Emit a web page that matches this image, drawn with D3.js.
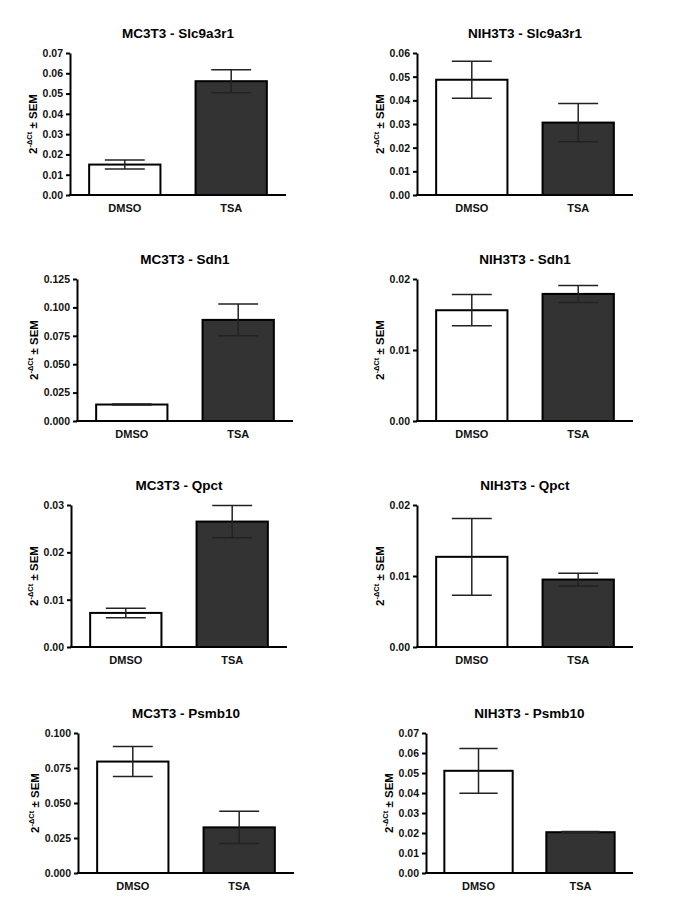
<!DOCTYPE html>
<html>
<head>
<meta charset="utf-8">
<script src="https://cdn.jsdelivr.net/npm/d3@7"></script>
<style>
  body { margin: 0; background: #fff; }
  svg { display: block; font-family: "Liberation Sans", Arial, sans-serif; }
  .axis text { font-weight: bold; fill: #111; }
</style>
</head>
<body>
<div id="chart"></div>
<script>
// chart values
const groups = ["DMSO", "TSA"];
const titles = [
  "MC3T3 - Slc9a3r1", "NIH3T3 - Slc9a3r1",
  "MC3T3 - Sdh1", "NIH3T3 - Sdh1",
  "MC3T3 - Qpct", "NIH3T3 - Qpct",
  "MC3T3 - Psmb10", "NIH3T3 - Psmb10",
];
const means = [
  [0.0150, 0.0561], [0.0487, 0.0306],
  [0.0145, 0.0890], [0.0156, 0.0179],
  [0.0072, 0.0265], [0.0127, 0.0095],
  [0.0796, 0.0326], [0.0511, 0.0204],
];
const sems = [
  [0.0022, 0.0057], [0.0078, 0.0081],
  [0.0004, 0.0140], [0.0022, 0.0012],
  [0.0010, 0.0034], [0.0054, 0.0009],
  [0.0107, 0.0115], [0.0112, 0.0003],
];
const yMax = [0.07, 0.06, 0.125, 0.02, 0.03, 0.02, 0.1, 0.07];
const tickStep = [0.01, 0.01, 0.025, 0.01, 0.01, 0.01, 0.025, 0.01];
const tickDigits = [2, 2, 3, 2, 2, 2, 3, 2];

// where each small chart sits on the page
const rows = [[53, 195], [279, 421], [505, 647], [733, 873]];
const lefts = [70, 417, 77, 417, 71, 417, 78, 426];
const plotW = 216;

const width = 685, height = 913;
const svg = d3.select("#chart").append("svg")
  .attr("width", width)
  .attr("height", height);

titles.forEach((title, i) => {
  const [top, bottom] = rows[Math.floor(i / 2)];
  const left = lefts[i];
  const right = i % 2 === 0 ? left + plotW : 633;

  const x = d3.scaleBand().domain(groups).range([left, right])
    .paddingInner(0.33).paddingOuter(0.18);
  const y = d3.scaleLinear().domain([0, yMax[i]]).range([bottom, top]);

  const g = svg.append("g").attr("class", "panel");

  // bars
  g.selectAll("rect")
    .data(groups)
    .join("rect")
    .attr("x", (d) => x(d))
    .attr("width", x.bandwidth())
    .attr("y", (d, j) => y(means[i][j]))
    .attr("height", (d, j) => bottom - y(means[i][j]))
    .attr("fill", (d, j) => (j === 0 ? "#fff" : "#333"))
    .attr("stroke", "#000")
    .attr("stroke-width", 2);

  // error bars
  const capW = x.bandwidth() * 0.56;
  const err = g.append("g").attr("class", "err")
    .attr("stroke", "#222").attr("stroke-width", 1.5);
  groups.forEach((d, j) => {
    const cx = x(d) + x.bandwidth() / 2;
    const hi = y(means[i][j] + sems[i][j]);
    const lo = y(means[i][j] - sems[i][j]);
    err.append("line").attr("x1", cx).attr("x2", cx).attr("y1", hi).attr("y2", lo);
    err.append("line").attr("x1", cx - capW / 2).attr("x2", cx + capW / 2).attr("y1", hi).attr("y2", hi);
    err.append("line").attr("x1", cx - capW / 2).attr("x2", cx + capW / 2).attr("y1", lo).attr("y2", lo);
  });

  // y axis
  const ticks = d3.range(0, yMax[i] + tickStep[i] / 2, tickStep[i]);
  const yAxis = g.append("g").attr("class", "axis")
    .attr("transform", `translate(${left},0)`)
    .call(d3.axisLeft(y).tickValues(ticks).tickFormat(d3.format(`.${tickDigits[i]}f`))
      .tickSize(4).tickSizeOuter(0).tickPadding(3));
  yAxis.selectAll("path, line").attr("stroke", "#000").attr("stroke-width", 2);
  yAxis.selectAll("text").style("font-size", "10.5px");

  // x axis
  const xAxis = g.append("g").attr("class", "axis")
    .attr("transform", `translate(0,${bottom})`)
    .call(d3.axisBottom(x).tickSize(0).tickSizeOuter(0).tickPadding(9));
  xAxis.select(".domain").attr("stroke", "#000").attr("stroke-width", 2)
    .attr("d", `M${left - 1},0H${right}`);
  xAxis.selectAll("text").style("font-size", "11px");

  // title
  g.append("text")
    .attr("x", (left + right) / 2)
    .attr("y", top - 15)
    .attr("text-anchor", "middle")
    .style("font-size", "13.5px")
    .style("font-weight", "bold")
    .text(title);

  // y label
  let tw = 0;
  yAxis.selectAll(".tick text").each(function () {
    tw = Math.max(tw, this.getComputedTextLength());
  });
  const lx = left - 7 - tw - 6;
  const label = g.append("text")
    .attr("transform", `translate(${lx},${(top + bottom) / 2}) rotate(-90)`)
    .attr("text-anchor", "middle")
    .style("font-size", "11.5px")
    .style("font-weight", "bold");
  label.append("tspan").text("2");
  label.append("tspan").attr("dy", -5).style("font-size", "7.5px").text("-\u0394Ct");
  label.append("tspan").attr("dy", 5).text(" \u00b1 SEM");
});
</script>
</body>
</html>
